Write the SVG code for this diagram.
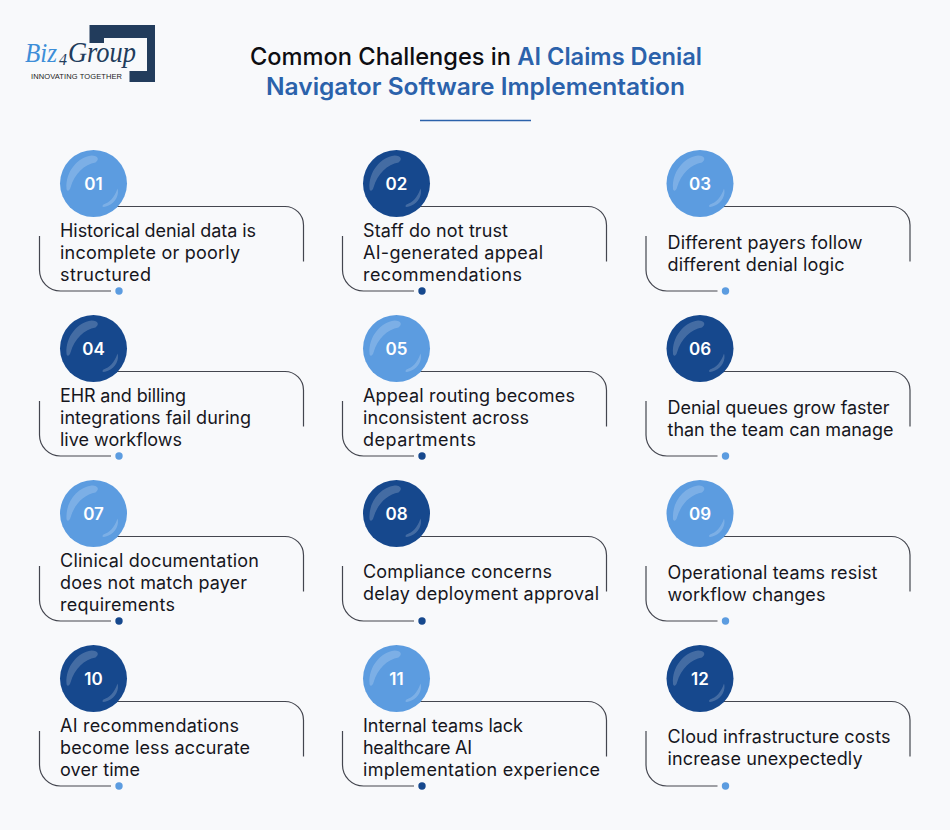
<svg xmlns="http://www.w3.org/2000/svg" width="950" height="830" viewBox="0 0 950 830">
<style>
text{font-family:"Inter","Noto Sans","Liberation Sans",sans-serif}
.t{font-size:18px;fill:#16161d;font-weight:400}
.n{font-size:17px;fill:#fff;font-weight:600;text-anchor:middle}
.h{font-size:24px;font-weight:500;fill:#0e0e12}
.b{fill:#2b62ab;font-weight:600}
.ln{fill:none;stroke:#44464f;stroke-width:1.2}
.lt{fill:#5c9ce0}.dk{fill:#16488d}
.g{fill:#fff;opacity:.2}
.s{font-family:"Liberation Serif",serif;font-style:italic}
</style>
<defs>
<g id="gl"><path class="g" d="M-27 5C-28-12-16-26-2-28C5-28 6-24 2-21C-9-19-19-10-23 4C-24 8-27 8-27 5Z"/><path class="g" d="M10 21C16 19 21 14 24 5C26 11 22 19 15 22C11 24 7 24 10 21Z"/></g>
<g id="fr"><path class="ln" d="M110 206.500H285A18.500 18.500 0 0 1 303.500 225V261.500"/><path class="ln" d="M39.500 236V270A21 21 0 0 0 60.500 291H111"/></g>
</defs>
<rect width="950" height="830" fill="#f8f9fb"/>
<g id="logo">
<path d="M89.500 25H155V82H129.500V71H147V38H104V43H89.500Z" fill="#223c5c"/>
<text class="s" x="25" y="62" font-size="27" fill="#3d8ed8" textLength="32" lengthAdjust="spacingAndGlyphs">Biz</text>
<text class="s" x="59" y="65" font-size="16" fill="#223c5c">4</text>
<text class="s" x="68" y="62" font-size="29" fill="#223c5c" textLength="68" lengthAdjust="spacingAndGlyphs">Group</text>
<text x="31" y="79" style="font-family:'Liberation Sans',sans-serif" font-size="7.500" fill="#222" textLength="91">INNOVATING TOGETHER</text>
</g>
<g id="title">
<text class="h" x="250" y="65" textLength="452" lengthAdjust="spacingAndGlyphs">Common Challenges in <tspan class="b">AI Claims Denial</tspan></text>
<text class="h b" x="266" y="95" textLength="419" lengthAdjust="spacingAndGlyphs">Navigator Software Implementation</text>
<path d="M420 120.500H531" stroke="#2b62ab" stroke-width="1.500" fill="none"/>
</g>
<g id="connectors">
<use href="#fr"/><use href="#fr" x="303"/><use href="#fr" x="606.500"/>
<use href="#fr" y="165"/><use href="#fr" x="303" y="165"/><use href="#fr" x="606.500" y="165"/>
<use href="#fr" y="330"/><use href="#fr" x="303" y="330"/><use href="#fr" x="606.500" y="330"/>
<use href="#fr" y="495"/><use href="#fr" x="303" y="495"/><use href="#fr" x="606.500" y="495"/>
</g>
<g id="node-01"><circle class="lt" cx="93.500" cy="183.500" r="33.500"/><use href="#gl" x="93.500" y="183.500"/><text class="n" x="93.500" y="189.500">01</text><text class="t" x="60" y="237" textLength="196">Historical denial data is</text><text class="t" x="60" y="259" textLength="180">incomplete or poorly</text><text class="t" x="60" y="281" textLength="91">structured</text><circle class="lt" cx="119" cy="291" r="3.700"/></g>
<g id="node-02"><circle class="dk" cx="396.500" cy="183.500" r="33.500"/><use href="#gl" x="396.500" y="183.500"/><text class="n" x="396.500" y="189.500">02</text><text class="t" x="363" y="237" textLength="145">Staff do not trust</text><text class="t" x="363" y="259" textLength="180">AI-generated appeal</text><text class="t" x="363" y="281" textLength="159">recommendations</text><circle class="dk" cx="422" cy="291" r="3.700"/></g>
<g id="node-03"><circle class="lt" cx="700" cy="183.500" r="33.500"/><use href="#gl" x="700" y="183.500"/><text class="n" x="700" y="189.500">03</text><text class="t" x="667.500" y="249" textLength="195">Different payers follow</text><text class="t" x="667.500" y="271" textLength="177">different denial logic</text><circle class="lt" cx="725.500" cy="291" r="3.700"/></g>
<g id="node-04"><circle class="dk" cx="93.500" cy="348.500" r="33.500"/><use href="#gl" x="93.500" y="348.500"/><text class="n" x="93.500" y="354.500">04</text><text class="t" x="60" y="402" textLength="126">EHR and billing</text><text class="t" x="60" y="424" textLength="191">integrations fail during</text><text class="t" x="60" y="446" textLength="122">live workflows</text><circle class="lt" cx="119" cy="456" r="3.700"/></g>
<g id="node-05"><circle class="lt" cx="396.500" cy="348.500" r="33.500"/><use href="#gl" x="396.500" y="348.500"/><text class="n" x="396.500" y="354.500">05</text><text class="t" x="363" y="402" textLength="212">Appeal routing becomes</text><text class="t" x="363" y="424" textLength="166">inconsistent across</text><text class="t" x="363" y="446" textLength="113">departments</text><circle class="dk" cx="422" cy="456" r="3.700"/></g>
<g id="node-06"><circle class="dk" cx="700" cy="348.500" r="33.500"/><use href="#gl" x="700" y="348.500"/><text class="n" x="700" y="354.500">06</text><text class="t" x="667.500" y="414" textLength="222">Denial queues grow faster</text><text class="t" x="667.500" y="436" textLength="226">than the team can manage</text><circle class="lt" cx="725.500" cy="456" r="3.700"/></g>
<g id="node-07"><circle class="lt" cx="93.500" cy="513.500" r="33.500"/><use href="#gl" x="93.500" y="513.500"/><text class="n" x="93.500" y="519.500">07</text><text class="t" x="60" y="567" textLength="199">Clinical documentation</text><text class="t" x="60" y="589" textLength="187">does not match payer</text><text class="t" x="60" y="611" textLength="115">requirements</text><circle class="dk" cx="119" cy="621" r="3.700"/></g>
<g id="node-08"><circle class="dk" cx="396.500" cy="513.500" r="33.500"/><use href="#gl" x="396.500" y="513.500"/><text class="n" x="396.500" y="519.500">08</text><text class="t" x="363" y="578" textLength="189">Compliance concerns</text><text class="t" x="363" y="600" textLength="236">delay deployment approval</text><circle class="dk" cx="422" cy="621" r="3.700"/></g>
<g id="node-09"><circle class="lt" cx="700" cy="513.500" r="33.500"/><use href="#gl" x="700" y="513.500"/><text class="n" x="700" y="519.500">09</text><text class="t" x="667.500" y="579" textLength="210">Operational teams resist</text><text class="t" x="667.500" y="601" textLength="158">workflow changes</text><circle class="lt" cx="725.500" cy="621" r="3.700"/></g>
<g id="node-10"><circle class="dk" cx="93.500" cy="678.500" r="33.500"/><use href="#gl" x="93.500" y="678.500"/><text class="n" x="93.500" y="684.500">10</text><text class="t" x="60" y="732" textLength="179">AI recommendations</text><text class="t" x="60" y="754" textLength="190">become less accurate</text><text class="t" x="60" y="776" textLength="80">over time</text><circle class="lt" cx="119" cy="786" r="3.700"/></g>
<g id="node-11"><circle class="lt" cx="396.500" cy="678.500" r="33.500"/><use href="#gl" x="396.500" y="678.500"/><text class="n" x="396.500" y="684.500">11</text><text class="t" x="363" y="732" textLength="160">Internal teams lack</text><text class="t" x="363" y="754" textLength="109">healthcare AI</text><text class="t" x="363" y="776" textLength="237">implementation experience</text><circle class="dk" cx="422" cy="786" r="3.700"/></g>
<g id="node-12"><circle class="dk" cx="700" cy="678.500" r="33.500"/><use href="#gl" x="700" y="678.500"/><text class="n" x="700" y="684.500">12</text><text class="t" x="667.500" y="743" textLength="223">Cloud infrastructure costs</text><text class="t" x="667.500" y="765" textLength="195">increase unexpectedly</text><circle class="lt" cx="725.500" cy="786" r="3.700"/></g>
</svg>
